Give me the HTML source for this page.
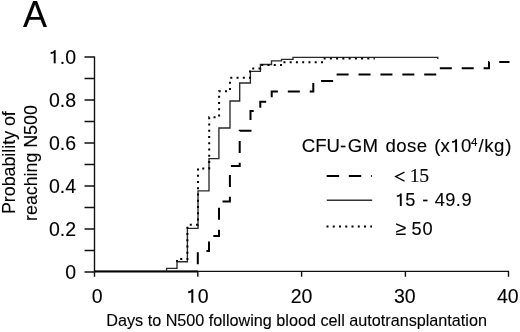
<!DOCTYPE html>
<html><head><meta charset="utf-8">
<style>
html,body{margin:0;padding:0;background:#fff;}
svg{display:block;filter:grayscale(1);}
text{font-family:"Liberation Sans",sans-serif;fill:#000;stroke:#000;stroke-width:0.12px;}
#one{stroke:#000;stroke-width:0.12px;}
.serif{font-family:"Liberation Serif",serif;}
</style></head>
<body>
<svg width="520" height="332" viewBox="0 0 520 332">
<defs><path id="one" d="M5.1 0 V-13.5 H3.5 C3.3 -12.2 2.2 -11.6 0 -11.5 V-9.8 C1.4 -9.8 2.5 -10.1 3.2 -10.8 V0 Z"/></defs>
<rect width="520" height="332" fill="#fff"/>
<!-- Panel label -->
<text x="23" y="27" font-size="36">A</text>

<!-- Y axis label -->
<text transform="translate(15.4,162.6) rotate(-90)" font-size="17.8" text-anchor="middle">Probability of</text>
<text transform="translate(37,163.05) rotate(-90)" font-size="17.8" text-anchor="middle">reaching N500</text>

<!-- Y tick labels -->
<g font-size="19.5" text-anchor="end">
<use href="#one" transform="translate(50.7,63.2) scale(0.965)"/><text x="76" y="64">.0</text>
<text x="76" y="107">0.8</text>
<text x="76" y="150">0.6</text>
<text x="76" y="193">0.4</text>
<text x="76" y="236">0.2</text>
<text x="76" y="279">0</text>
</g>

<!-- axes -->
<g stroke="#111" stroke-width="1.4" fill="none">
<path d="M94.5 56.5 V276.8"/>
<path d="M94.5 271.4 H508.5 V276.8"/>
<path d="M84.5 57 H94.5 M84.5 78.5 H94.5 M84.5 100 H94.5 M84.5 121.5 H94.5 M84.5 143 H94.5 M84.5 164.5 H94.5 M84.5 186 H94.5 M84.5 207.5 H94.5 M84.5 229 H94.5 M84.5 250.5 H94.5 M84.5 272 H94.5"/>
<path d="M197.8 271.4 V276.8 M301.6 271.4 V276.8 M405.4 271.4 V276.8"/>
</g>
<path d="M94.5 271.5 H198" stroke="#000" stroke-width="2" fill="none"/>

<!-- X tick labels -->
<g font-size="19.5" text-anchor="middle">
<text x="97.2" y="302.6">0</text>
<use href="#one" transform="translate(188.2,302.7) scale(0.99)"/><text x="197.8" y="302.6" text-anchor="start">0</text>
<text x="301.5" y="302.6">20</text>
<text x="404.8" y="302.6">30</text>
<text x="507.8" y="302.6">40</text>
</g>

<!-- X axis label -->
<text x="106.3" y="325.8" font-size="16.2">Days to N500 following blood cell autotransplantation</text>

<!-- curves -->
<!-- solid 15-49.9 -->
<path fill="none" stroke="#2a2a2a" stroke-width="1.35"
 d="M166.6 271.5 V268.3 H177 V261.7 H187.4 V228.3 H198 V190.9 H209 V158.6 H218.9 V128 H230 V101 H239.7 V83 H250.4 V71.3 H260.4 V64.5 H271.5 V60.8 H281.5 V59.4 H293 V57.3 H437.8 V59"/>
<!-- dotted >=50 -->
<path fill="none" stroke="#000" stroke-width="2" stroke-dasharray="2 4.25" stroke-dashoffset="0.3"
 d="M177 261.7 V259 H187.4 V224.8 H198 V168.5 H209.2 V117.3 H219.1 V91.2 H230 V77.8 H250 V68.5 H260.4 V65 H282.5 V62.2 H322 V58.6 H374.8"/>
<!-- dashed <15 -->
<path fill="none" stroke="#000" stroke-width="2" stroke-dasharray="12 9.9" stroke-dashoffset="14.68"
 d="M197.8 271.5 V251 H209 V236 H219 V201.4 H229.9 V166 H239.7 V130.8 H250.5 V111.1 H260.3 V101.7 H271.7 V91.5 H313.3 V81 H335.5 V74.6 H438.5 V68.3 H489 V62 H509.5"/>

<!-- legend -->
<text y="152.3" font-size="18.6"><tspan x="301.8">CFU-</tspan><tspan x="347.8" letter-spacing="0.2">GM</tspan><tspan x="385.5" letter-spacing="0.4">dose</tspan><tspan x="434.25">(x</tspan><tspan x="461">0</tspan><tspan x="471" font-size="11.5" y="146.3">4</tspan><tspan x="478.4" y="152.3">/</tspan><tspan x="484.2">k</tspan><tspan x="494.1">g</tspan><tspan x="505.3">)</tspan></text><use href="#one" transform="translate(452.1,152.1) scale(0.96)"/>
<path d="M326.7 176 H371.8" stroke="#000" stroke-width="2" stroke-dasharray="12.4 9.7"/>
<path d="M404.5 172.1 L395.6 176.6 L404.5 181.1" fill="none" stroke="#000" stroke-width="1.25"/><text class="serif" y="181.7" font-size="19.7"><tspan x="409.75">1</tspan><tspan x="419.3">5</tspan></text>
<path d="M326.8 200.2 H372.2" stroke="#333" stroke-width="1.4"/>
<use href="#one" transform="translate(396.9,206) scale(0.935)"/><text y="206" font-size="18.2"><tspan x="405.3">5</tspan><tspan x="422.3">-</tspan><tspan x="434.7">4</tspan><tspan x="445.15">9</tspan><tspan x="455.7">.</tspan><tspan x="461.45">9</tspan></text>
<path d="M326.5 226.6 H372" stroke="#000" stroke-width="2" stroke-dasharray="2 4.25"/>
<text y="234.6" font-size="18.2"><tspan x="395.6" font-size="19.5">≥</tspan><tspan x="411.6">5</tspan><tspan x="422.4">0</tspan></text>
</svg>
</body></html>
